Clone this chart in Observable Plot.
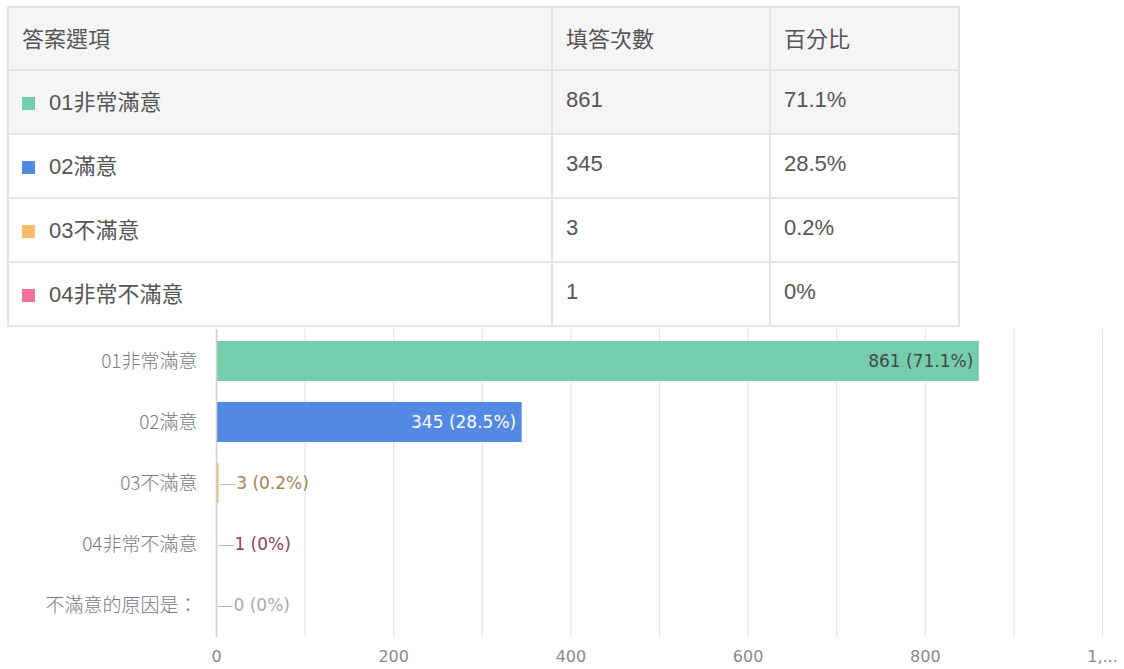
<!DOCTYPE html>
<html>
<head>
<meta charset="utf-8">
<script src="https://cdn.jsdelivr.net/npm/d3@7"></script>
<script src="https://cdn.jsdelivr.net/npm/@observablehq/plot@0.6"></script>
<style>
  html, body { margin: 0; padding: 0; background: #fff; }
  body { width: 1124px; height: 669px; overflow: hidden; position: relative;
         font-family: "Liberation Sans", Arial, "Noto Sans CJK TC", sans-serif; }
  #tbl { position: absolute; left: 7px; top: 6px; border-collapse: collapse;
         width: 951px; table-layout: fixed; color: #555; font-size: 22px; }
  #tbl td, #tbl th { border: 2px solid #e3e3e3; height: 60px; padding: 0 0 4px 13px;
         text-align: left; font-weight: normal; box-sizing: border-box; white-space: nowrap; }
  #tbl tr.grey td, #tbl tr.grey th { background: #f5f5f5; }
  .sw { display: inline-block; width: 13px; height: 13px; margin-right: 14px; vertical-align: 0px; }
  #chart { position: absolute; left: 0; top: 325px; }
</style>
</head>
<body>
<table id="tbl"></table>
<div id="chart"></div>
<script>
// ---- data ----
const categories = ["01非常滿意", "02滿意", "03不滿意", "04非常不滿意", "不滿意的原因是："];
const counts = [861, 345, 3, 1, 0];
const percents = ["71.1%", "28.5%", "0.2%", "0%", "0%"];
const colors = ["#76cdae", "#5389e3", "#fbbb6c", "#f07499", "#cccccc"];
const headers = ["答案選項", "填答次數", "百分比"];
const tableRows = 4;
const xTicks = [0, 200, 400, 600, 800, 1000];
const xGrid = [0, 100, 200, 300, 400, 500, 600, 700, 800, 900, 1000];

// ---- table ----
const tbl = document.getElementById("tbl");
const colW = ["544px", "218px", "189px"];
let html = "<colgroup>" + colW.map(w => `<col style="width:${w}">`).join("") + "</colgroup>";
html += `<tr class="grey" style="height:63px">` + headers.map(h => `<th>${h}</th>`).join("") + "</tr>";
for (let i = 0; i < tableRows; i++) {
  html += `<tr class="${i === 0 ? "grey" : ""}" style="height:64px"><td><span class="sw" style="background:${colors[i]}"></span>${categories[i]}</td><td>${counts[i]}</td><td>${percents[i]}</td></tr>`;
}
tbl.innerHTML = html;

// ---- chart ----
const data = categories.map((c, i) => ({cat: c, value: counts[i], pct: percents[i], color: colors[i], i}));
const inside = data.filter(d => d.value > 100);
const outside = data.filter(d => d.value <= 100);
const insideFill = ["#3f4a45", "#ffffff"];
const outsideFill = ["#a8824f", "#9b3a5c", "#aaaaaa"];
const numFont = "'DejaVu Sans', 'Noto Sans CJK TC', sans-serif";

const chart = Plot.plot({
  width: 1124,
  height: 344,
  marginLeft: 216,
  marginRight: 22,
  marginTop: 4,
  marginBottom: 32,
  style: {fontFamily: numFont, fontSize: "15px", color: "#888"},
  x: {domain: [0, 1000], axis: null, label: null},
  y: {domain: categories, paddingInner: 0.35, paddingOuter: 0.175, axis: null, label: null},
  marks: [
    Plot.ruleX(xGrid, {stroke: "#e6e6e6", strokeWidth: 1.2}),
    Plot.barX(data, {y: "cat", x: "value", fill: "color"}),
    Plot.ruleX([0], {stroke: "#d0d0d0", strokeWidth: 1.5}),
    Plot.axisX(xTicks, {tickSize: 0, tickPadding: 13, fontSize: 16, fill: "#8a8a8a", label: null,
      fontFamily: numFont, tickFormat: d => d >= 1000 ? "1,..." : String(d)}),
    Plot.axisY({tickSize: 0, tickPadding: 19, fontSize: 19, fill: "#7a7a7a", label: null,
      fontFamily: "'Noto Sans CJK TC', sans-serif", fontWeight: 300}),
    Plot.text(inside, {y: "cat", x: "value", text: d => `${d.value} (${d.pct})`, textAnchor: "end", dx: -6,
      fill: d => insideFill[d.i], fontSize: 17, fontFamily: numFont}),
    Plot.text(outside, {y: "cat", x: "value", text: () => "—", textAnchor: "start", dx: 1,
      fill: "#b5b5b5", fontSize: 15, fontFamily: "'Liberation Sans', sans-serif"}),
    Plot.text(outside, {y: "cat", x: "value", text: d => `${d.value} (${d.pct})`, textAnchor: "start", dx: 17,
      fill: d => outsideFill[d.i - 2], fontSize: 17, fontFamily: numFont})
  ]
});
document.getElementById("chart").appendChild(chart);
</script>
</body>
</html>
